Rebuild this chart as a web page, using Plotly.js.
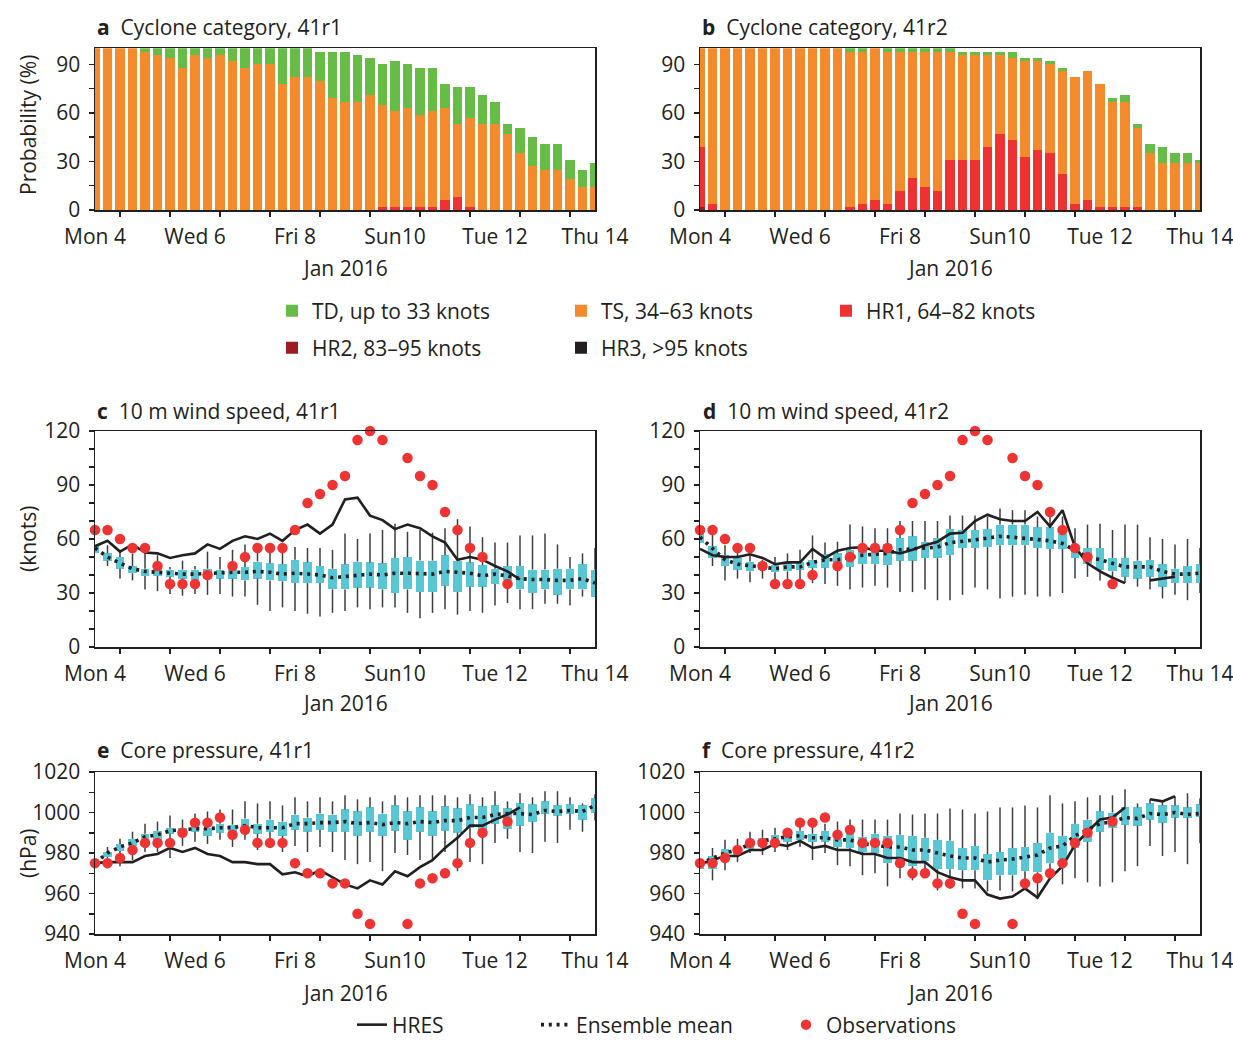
<!DOCTYPE html>
<html><head><meta charset="utf-8">
<script src="https://cdn.plot.ly/plotly-3.0.1.min.js"></script>
<style>html,body{margin:0;padding:0;background:#fff;overflow:hidden}#chart{width:1233px;height:1041px}</style>
</head><body><div id="chart"></div>
<script>
// ---------- time axis: days since Mon 4 Jan 2016 00 UTC, 6-hourly ----------
const times = [0,0.25,0.5,0.75,1,1.25,1.5,1.75,2,2.25,2.5,2.75,3,3.25,3.5,3.75,4,4.25,4.5,4.75,5,
  5.25,5.5,5.75,6,6.25,6.5,6.75,7,7.25,7.5,7.75,8,8.25,8.5,8.75,9,9.25,9.5,9.75,10];
const dayTicks = [0,2,4,6,8,10];
const dayLabels = ['Mon 4','Wed 6','Fri 8','Sun10','Tue 12','Thu 14'];
const halfDayTicks = [0.5,1.5,2.5,3.5,4.5,5.5,6.5,7.5,8.5,9.5];

// ---------- cyclone category probabilities (%) ----------
const td_41r1 = [0,0,0,0,2,4,6,12,4,6,4,8,12,10,10,22,18,18,18,29,31,29,23,25,31,27,29,27,15,23,19,18,14,6,16,18,16,16,12,11,15];
const ts_41r1 = [100,100,100,100,98,96,94,88,96,94,96,92,88,90,90,78,82,82,80,69,67,67,71,63,59,61,57,59,57,45,55,53,53,47,35,27,25,25,19,14,14];
const hr1_41r1 = [0,0,0,0,0,0,0,0,0,0,0,0,0,0,0,0,0,0,0,0,0,0,0,2,2,2,2,2,6,8,2,0,0,0,0,0,0,0,0,0,0];
const hr2_41r1 = [0,0,0,0,0,0,0,0,0,0,0,0,0,0,0,0,0,0,0,0,0,0,0,0,0,0,0,0,0,0,0,0,0,0,0,0,0,0,0,0,0];
const hr3_41r1 = [0,0,0,0,0,0,0,0,0,0,0,0,0,0,0,0,0,0,0,0,0,0,0,0,0,0,0,0,0,0,0,0,0,0,0,0,0,0,0,0,0];

const td_41r2 = [0,0,0,0,0,0,0,0,0,0,0,0,2,2,0,2,2,2,2,2,2,2,2,2,2,4,2,2,2,2,0,0,0,2,4,2,6,10,6,6,2];
const ts_41r2 = [61,96,100,100,100,100,100,100,100,100,100,100,96,94,94,94,86,78,84,86,67,65,65,57,49,51,59,55,55,64,78,80,76,65,65,49,35,29,29,29,29];
const hr1_41r2 = [37,4,0,0,0,0,0,0,0,0,0,0,2,4,6,4,12,20,14,12,31,31,31,39,47,43,33,37,35,22,4,6,2,2,2,2,0,0,0,0,0];
const hr2_41r2 = [2,0,0,0,0,0,0,0,0,0,0,0,0,0,0,0,0,0,0,0,0,0,0,0,0,0,0,0,0,0,0,0,0,0,0,0,0,0,0,0,0];
const hr3_41r2 = [0,0,0,0,0,0,0,0,0,0,0,0,0,0,0,0,0,0,0,0,0,0,0,0,0,0,0,0,0,0,0,0,0,0,0,0,0,0,0,0,0];

// ---------- observations (best track) ----------
const obsWind = [65,65,60,55,55,45,35,35,35,40,null,45,50,55,55,55,65,80,85,90,95,
  115,120,115,null,105,95,90,75,65,55,50,null,35,null,null,null,null,null,null,null];
const obsPres = [975,975,977.5,981.5,985,985,985,990,995,995,997.5,989,991.5,985,985,985,975,970,970,965,965,
  950,945,null,null,945,965,967.5,970,975,985,990,null,995.5,null,null,null,null,null,null,null];

// ---------- 10 m wind speed (knots), 41r1 ----------
const hresWind_41r1 = [56,59,53,57,52.5,52,49.5,51,52,57,54.5,59,61.5,60,63,59,65,68,63,68,82,
  83,73,70.5,65.5,68,66,61.5,58,48.5,50,48.5,45,42,37.5,null,null,null,null,null,null];
const meanWind_41r1 = [55,50,46.5,43.5,42,41.5,40.5,40.5,40.5,41,41,41.5,41.5,42,41.5,40.5,41,40.5,40,38.5,39,
  40,40.5,40,41,41,40.5,40.5,42,41.5,41,39.5,40.5,39.5,38,37.5,37.5,37,37,38,35.5];
const q1Wind_41r1 = [52,48,43.5,41,39.5,39.5,39,38,37,38,38,38,37,38,37,36.5,35.5,35.5,35.5,32,32,
  33,33,32,30,32,30.5,30.5,34,30.5,33.5,33.5,35,37,32,30,32,29,32,32,28];
const q3Wind_41r1 = [56,52,50,45,43.5,43.5,43,43,43,43.5,43,43.5,44.5,47.5,46.5,46,48.5,47,45,43.5,46,
  47.5,47,46.5,49.5,50,48,48,51,48,47,45.5,43.5,45,45,43,43,43.5,43.5,46,43];
const loWind_41r1 = [52,45,38,37,32,31,29.5,28.5,29.5,29,29.5,28,28,23.5,20,22,20,18.5,17,19,20,
  22,21,22,22,19,16,19,21,18,20,19,23,24.5,21,21,24,24,23,28,28];
const hiWind_41r1 = [56,56.5,53,52,53,51,44.5,48,45,53,50,54,57,56.5,55.5,55,55.5,55,55,54,63,
  60,63,65,68.5,64,65,63.5,66,71,67,61,58,58,62,62,63,57,50,52,55];

// ---------- 10 m wind speed (knots), 41r2 ----------
const hresWind_41r2 = [54.5,51,50,50,51.5,49.5,46,47,47,54.5,49.5,53.5,55,55.5,53.5,53.5,52,54,56.5,58.5,63,
  63.5,70,73.5,71,70,70,75,67,76,55.5,46.5,42,38.5,35.5,null,37,38,39,null,null];
const meanWind_41r2 = [61,54.5,48.5,46,45,44.5,43.5,44.5,44.5,47,48.5,48.5,50,51,51.5,52,54,54.5,54.5,55.5,58,
  58.5,59.5,60.5,61.5,61,60.5,60,59,57.5,53.5,50,48.5,46.5,44.5,44.5,44.5,42,40.5,40.5,41];
const q1Wind_41r2 = [58,49.5,45,43,42,43,41.5,42,43,44,44,46,44.5,46,46,45.5,48,48,49.5,49.5,51,
  55,55,55.5,56.5,56.5,56.5,55,54.5,54.5,49.5,46,43,42,39,38,39,33.5,35.5,35.5,35.5];
const q3Wind_41r2 = [65,56,51,49.5,47.5,47.5,45.5,46.5,47.5,48.5,51.5,52,54,56.5,57,57,60.5,61.5,58.5,60.5,65.5,
  65,65,65.5,68,68,68,66.5,66.5,63,55,55,55,49.5,49.5,48,48.5,46,43.5,45,46];
const loWind_41r2 = [58,45,37,38,36,38,33.5,35.5,36,35.5,35,34,32,33,34,33,30.5,30.5,32,26,26,
  29,33,32,27,28,29,28,28,30,38,39,37,32.5,35.5,33.5,32,27,29,26,30];
const hiWind_41r2 = [65,65,56.5,55,51,48.5,50,52,54,62,58,58.5,68,67,66,66,70,70,70,70,73,
  73,73,72.5,77,76,76,72.5,75,72.5,66,68,68.5,65,68,68,61,60,57,60,55];

// ---------- core pressure (hPa), 41r1 ----------
const hresPres_41r1 = [975,975.5,975.5,975.5,978.5,979.5,982.5,980.5,982.5,979.5,978.5,975.5,975.5,974.5,974.5,969.5,970.5,968.5,971.5,968,964.5,
  962.5,966.5,964.5,971,968.5,973,976.5,982.5,987.5,993.5,993.5,996.5,999,1002.5,null,null,null,null,null,null];
const meanPres_41r1 = [975,980,983,985,988,989,991,991.5,992,992,992.5,992.5,993.5,992.5,992.5,992.5,994.5,994.5,995,995,995.5,
  994.5,995,994,995,994.5,995.5,995,996,996,997.5,997.5,999,999.5,999.5,999,1001,1000.5,1001,1000.5,1003.5];
const q1Pres_41r1 = [974,978,981,983.5,986.5,986.5,989.5,989,990.5,988.5,990,990.5,991.5,989.5,990.5,988.5,991.5,990.5,991.5,990.5,990.5,
  988.5,990.5,988.5,991,986.5,990.5,988.5,991,990,992.5,991,994.5,992,993.5,995.5,999.5,998.5,999.5,996.5,1000];
const q3Pres_41r1 = [976,980.5,984.5,987,989.5,991,992.5,992.5,994.5,992.5,994.5,994,997,994.5,996.5,995.5,999,997.5,999.5,999,1001.5,
  1000.5,1002.5,999.5,1003.5,1000.5,1002.5,1000.5,1003,1002,1004,1003,1003.5,1002,1004.5,1004,1005.5,1003.5,1004,1003.5,1007];
const loPres_41r1 = [974,972.5,973.5,976.5,980.5,980.5,977.5,983.5,985.5,984.5,986.5,983,986.5,981.5,983,980.5,983.5,980.5,983,980.5,976.5,
  974.5,975.5,971,980,979,976.5,976.5,980.5,971,975.5,974.5,985,987,980.5,980,985.5,985,991.5,990.5,996];
const hiPres_41r1 = [976,983,987,990.5,994.5,995.5,998.5,996.5,999.5,1000.5,1001.5,1001.5,1005.5,1004.5,1005.5,1003.5,1007.5,1005.5,1007.5,1005.5,1008.5,
  1006.5,1007.5,1005.5,1008.5,1007.5,1008.5,1008.5,1008.5,1007.5,1009,1007.5,1010.5,1005.5,1009.5,1007.5,1010.5,1010.5,1007.5,1004.5,1009];

// ---------- core pressure (hPa), 41r2 ----------
const hresPres_41r2 = [974.5,976.5,978.5,978.5,981.5,981.5,984.5,983.5,986,982.5,983.5,981.5,981.5,979.5,979.5,977.5,977.5,975.5,975.5,970.5,968,
  966.5,966.5,959.5,957.5,958.5,962.5,958,967.5,973.5,984,990.5,996.5,997.5,1002.5,null,1006.5,1005.5,1008,null,null];
const meanPres_41r2 = [974.5,977.5,980,981.5,984.5,986,987,988,988.5,987.5,987.5,986.5,986.5,984.5,984,983,983,981.5,981.5,980,978.5,
  977.5,977.5,975.5,976.5,977,978,979,982.5,983.5,988.5,991.5,994.5,995.5,997.5,997,999.5,999,1000,999,999.5];
const q1Pres_41r2 = [972,972,977.5,979,982,983,985,985.5,986.5,985.5,985.5,983,982.5,980.5,980,975,975.5,973.5,976,972,972,
  971.5,971.5,966.5,969,969,971,970.5,975,977,982.5,985.5,990.5,992.5,994,993.5,996.5,995,997.5,997.5,998];
const q3Pres_41r2 = [976.5,978.5,982,983,985.5,987.5,989,990.5,991,989.5,991,987,990.5,988,989.5,988.5,989,988.5,987.5,986.5,986,
  982.5,983.5,979.5,980.5,982.5,983,985,990,988.5,994.5,996.5,1000.5,1000,1002.5,1002.5,1004.5,1003.5,1003.5,1002.5,1004];
const loPres_41r2 = [972,966.5,971.5,975.5,980,979,980.5,981.5,983,976.5,980,974,973.5,969,970,963.5,967.5,966.5,969,961.5,962.5,
  962.5,962.5,961,961.5,961,964,957.5,967.5,964.5,967.5,965.5,963.5,965.5,971,973.5,983.5,978.5,980.5,974.5,985];
const hiPres_41r2 = [976.5,982.5,986.5,987,990.5,991.5,992.5,992,994,994,994.5,995.5,996.5,996.5,996.5,996.5,999.5,999,999.5,999.5,1002,
  1001.5,999.5,1000.5,1002.5,1002.5,1003.5,1002.5,1008.5,1004.5,1005.5,1007.5,1008.5,1008.5,1011.5,1004.5,1006.5,1005.5,1008,1009.5,1007];

// ---------- styling ----------
const W = 1233, H = 1041;
const INK = '#231f20';
const FONT = 'Open Sans, sans-serif';
const COL = {TD:'#67bb47', TS:'#f38a2b', HR1:'#ee3231', HR2:'#9e1c21', HR3:'#231f20',
  box:'#59c6d4', whisker:'#3d3d3d', obs:'#ee3432'};

const traces = [];

function catTraces(xa, ya, td, ts, hr1, hr2, hr3, withLegend) {
  const cats = [
    {name:'HR3, >95 knots', v:hr3, c:COL.HR3, lg:'legend5'},
    {name:'HR2, 83\u201395 knots', v:hr2, c:COL.HR2, lg:'legend4'},
    {name:'HR1, 64\u201382 knots', v:hr1, c:COL.HR1, lg:'legend3'},
    {name:'TS, 34\u201363 knots', v:ts, c:COL.TS, lg:'legend2'},
    {name:'TD, up to 33 knots', v:td, c:COL.TD, lg:'legend'}
  ];
  let base = times.map(() => 0);
  cats.forEach(k => {
    traces.push({type:'bar', x:times, y:k.v, base:base.slice(), width:0.19,
      marker:{color:k.c, line:{width:0}}, xaxis:xa, yaxis:ya, name:k.name,
      showlegend:withLegend, legend:k.lg, hoverinfo:'skip'});
    base = base.map((b, i) => b + k.v[i]);
  });
}

function ensTraces(xa, ya, q1, q3, lo, hi, mean, hres, obs, withLegend) {
  const wx = [], wy = [];
  times.forEach((t, i) => { wx.push(t, t, null, t, t, null); wy.push(lo[i], q1[i], null, q3[i], hi[i], null); });
  traces.push({type:'scatter', mode:'lines', x:wx, y:wy, xaxis:xa, yaxis:ya,
    line:{color:COL.whisker, width:1.5}, showlegend:false, hoverinfo:'skip'});
  traces.push({type:'bar', x:times, base:q1, y:q3.map((v, i) => v - q1[i]), width:0.175,
    marker:{color:COL.box, line:{width:0}}, xaxis:xa, yaxis:ya, showlegend:false, hoverinfo:'skip'});
  traces.push({type:'scatter', mode:'lines', x:times, y:hres, xaxis:xa, yaxis:ya, name:'HRES',
    line:{color:INK, width:2.6}, connectgaps:false, showlegend:withLegend, legend:'legend6', hoverinfo:'skip'});
  traces.push({type:'scatter', mode:'lines', x:times, y:mean, xaxis:xa, yaxis:ya, name:'Ensemble mean',
    line:{color:INK, width:3.6, dash:'3px,4.8px'}, showlegend:withLegend, legend:'legend7', hoverinfo:'skip'});
  traces.push({type:'scatter', mode:'markers', x:times, y:obs, xaxis:xa, yaxis:ya, name:'Observations',
    marker:{color:COL.obs, size:10.5}, cliponaxis:false, showlegend:withLegend, legend:'legend8', hoverinfo:'skip'});
}

catTraces('x', 'y', td_41r1, ts_41r1, hr1_41r1, hr2_41r1, hr3_41r1, true);
catTraces('x2', 'y2', td_41r2, ts_41r2, hr1_41r2, hr2_41r2, hr3_41r2, false);
ensTraces('x3', 'y3', q1Wind_41r1, q3Wind_41r1, loWind_41r1, hiWind_41r1, meanWind_41r1, hresWind_41r1, obsWind, true);
ensTraces('x4', 'y4', q1Wind_41r2, q3Wind_41r2, loWind_41r2, hiWind_41r2, meanWind_41r2, hresWind_41r2, obsWind, false);
ensTraces('x5', 'y5', q1Pres_41r1, q3Pres_41r1, loPres_41r1, hiPres_41r1, meanPres_41r1, hresPres_41r1, obsPres, false);
ensTraces('x6', 'y6', q1Pres_41r2, q3Pres_41r2, loPres_41r2, hiPres_41r2, meanPres_41r2, hresPres_41r2, obsPres, false);

// ---------- axes ----------
function xax(l, r, anchor) {
  return {domain:[l / W, r / W], anchor:anchor, range:[0, 10], showline:true, mirror:true,
    linecolor:INK, linewidth:1.5, tickmode:'array', tickvals:dayTicks, ticktext:dayLabels,
    ticks:'outside', ticklen:5, tickcolor:'rgba(0,0,0,0)', ticklabelstandoff:2, ticklabeloverflow:'allow',
    minor:{tickmode:'array', tickvals:halfDayTicks, ticks:'outside', ticklen:5, tickwidth:1.5, tickcolor:INK, showgrid:false},
    showgrid:false, zeroline:false, tickfont:{size:21, color:INK}, fixedrange:true};
}
function yax(top, bot, anchor, range, major, minor) {
  return {domain:[1 - bot / H, 1 - top / H], anchor:anchor, range:range, showline:true, mirror:true,
    linecolor:INK, linewidth:1.5, tickmode:'array', tickvals:major, ticks:'outside', ticklen:5,
    tickwidth:1.5, tickcolor:INK, ticklabelstandoff:4, ticklabeloverflow:'allow',
    minor:{tickmode:'array', tickvals:minor, ticks:'outside', ticklen:5, tickwidth:1.5, tickcolor:INK, showgrid:false},
    showgrid:false, zeroline:false, tickfont:{size:21, color:INK}, fixedrange:true};
}
const L = [95, 595], R = [700, 1200];
const rowA = [48.3, 210], rowC = [431, 647], rowE = [772, 934];
const probMajor = [0, 30, 60, 90], probMinor = [15, 45, 75];
const windMajor = [0, 30, 60, 90, 120], windMinor = [10, 20, 40, 50, 70, 80, 100, 110];
const presMajor = [940, 960, 980, 1000, 1020], presMinor = [950, 970, 990, 1010];

function leg(xpx, ypx) {
  return {x:xpx / W, y:1 - ypx / H, xanchor:'left', yanchor:'middle', orientation:'v',
    bgcolor:'rgba(0,0,0,0)', borderwidth:0, font:{size:21, color:INK, family:FONT}};
}

function ann(text, xpx, ypx, xanchor, extra) {
  return Object.assign({text:text, x:xpx / W, y:1 - ypx / H, xref:'paper', yref:'paper',
    xanchor:xanchor, yanchor:'middle', showarrow:false, font:{size:21, color:INK, family:FONT}}, extra || {});
}
const SP = '\u00a0\u00a0';
const annotations = [
  ann('<b>a</b>' + SP + 'Cyclone category, 41r1', 95, 27, 'left'),
  ann('<b>b</b>' + SP + 'Cyclone category, 41r2', 700, 27, 'left'),
  ann('<b>c</b>' + SP + '10 m wind speed, 41r1', 95, 411, 'left'),
  ann('<b>d</b>' + SP + '10 m wind speed, 41r2', 701, 411, 'left'),
  ann('<b>e</b>' + SP + 'Core pressure, 41r1', 95, 750, 'left'),
  ann('<b>f</b>' + SP + 'Core pressure, 41r2', 700, 750, 'left'),
  ann('Jan 2016', 345, 268, 'center'), ann('Jan 2016', 950, 268, 'center'),
  ann('Jan 2016', 345, 703, 'center'), ann('Jan 2016', 950, 703, 'center'),
  ann('Jan 2016', 345, 993, 'center'), ann('Jan 2016', 950, 993, 'center'),
  ann('Probability (%)', 28, 125, 'center', {textangle:-90}),
  ann('(knots)', 28, 539, 'center', {textangle:-90}),
  ann('(hPa)', 28, 853, 'center', {textangle:-90})
];

const layout = {
  width:W, height:H, margin:{l:0, r:0, t:0, b:0, pad:0, autoexpand:false},
  paper_bgcolor:'#fff', plot_bgcolor:'#fff',
  font:{family:FONT, size:21, color:INK}, barmode:'overlay', bargap:0, hovermode:false,
  xaxis:xax(L[0], L[1], 'y'), yaxis:yax(rowA[0], rowA[1], 'x', [0, 100], probMajor, probMinor),
  xaxis2:xax(R[0], R[1], 'y2'), yaxis2:yax(rowA[0], rowA[1], 'x2', [0, 100], probMajor, probMinor),
  xaxis3:xax(L[0], L[1], 'y3'), yaxis3:yax(rowC[0], rowC[1], 'x3', [0, 120], windMajor, windMinor),
  xaxis4:xax(R[0], R[1], 'y4'), yaxis4:yax(rowC[0], rowC[1], 'x4', [0, 120], windMajor, windMinor),
  xaxis5:xax(L[0], L[1], 'y5'), yaxis5:yax(rowE[0], rowE[1], 'x5', [940, 1020], presMajor, presMinor),
  xaxis6:xax(R[0], R[1], 'y6'), yaxis6:yax(rowE[0], rowE[1], 'x6', [940, 1020], presMajor, presMinor),
  showlegend:true,
  legend:leg(272, 311), legend2:leg(561, 311), legend3:leg(826, 311),
  legend4:leg(272, 348), legend5:leg(561, 348),
  legend6:leg(352, 1025), legend7:leg(536, 1025), legend8:leg(786, 1025),
  annotations:annotations
};

Plotly.newPlot('chart', traces, layout, {staticPlot:true, displayModeBar:false});
</script>
</body></html>
